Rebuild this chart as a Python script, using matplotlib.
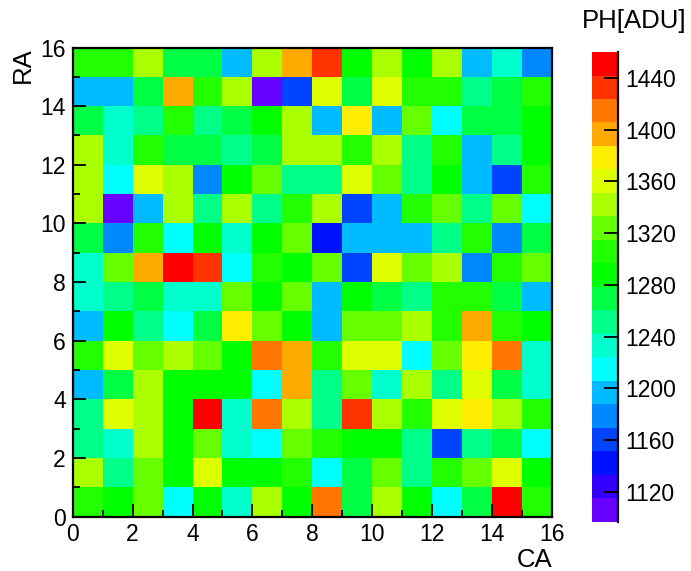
import matplotlib
matplotlib.use("Agg")
import matplotlib.pyplot as plt
import numpy as np
from matplotlib.colors import ListedColormap, BoundaryNorm

plt.rcParams['font.family'] = ['Liberation Sans', 'DejaVu Sans']
plt.rcParams['font.size'] = 16.5

# pulse height per cell, rows listed from top (RA 15-16) down to bottom (RA 0-1)
ph_rows_top_down = [
    [1306, 1306, 1342, 1270, 1270, 1197, 1342, 1397, 1433, 1288, 1342, 1288, 1342, 1197, 1233, 1179],
    [1197, 1197, 1270, 1397, 1306, 1342, 1106, 1161, 1361, 1270, 1361, 1306, 1306, 1251, 1270, 1306],
    [1270, 1233, 1251, 1306, 1251, 1270, 1288, 1342, 1197, 1379, 1197, 1324, 1215, 1270, 1270, 1288],
    [1342, 1233, 1306, 1270, 1270, 1251, 1270, 1342, 1342, 1306, 1342, 1251, 1306, 1197, 1251, 1288],
    [1342, 1215, 1361, 1342, 1179, 1288, 1324, 1251, 1251, 1361, 1324, 1251, 1288, 1197, 1161, 1306],
    [1342, 1106, 1197, 1342, 1251, 1342, 1251, 1306, 1342, 1161, 1197, 1306, 1324, 1251, 1324, 1215],
    [1270, 1179, 1306, 1215, 1288, 1233, 1288, 1324, 1143, 1197, 1197, 1197, 1251, 1306, 1179, 1270],
    [1233, 1324, 1397, 1451, 1433, 1215, 1306, 1288, 1324, 1161, 1361, 1324, 1342, 1179, 1306, 1324],
    [1233, 1251, 1270, 1233, 1233, 1324, 1288, 1324, 1197, 1288, 1270, 1251, 1306, 1306, 1270, 1197],
    [1197, 1288, 1251, 1215, 1270, 1379, 1324, 1288, 1197, 1324, 1324, 1342, 1306, 1397, 1306, 1288],
    [1306, 1361, 1324, 1342, 1324, 1288, 1415, 1397, 1306, 1361, 1361, 1215, 1324, 1379, 1415, 1233],
    [1197, 1270, 1342, 1288, 1288, 1288, 1215, 1397, 1251, 1324, 1233, 1342, 1251, 1361, 1270, 1233],
    [1251, 1361, 1342, 1288, 1451, 1233, 1415, 1342, 1251, 1433, 1342, 1306, 1361, 1379, 1342, 1306],
    [1251, 1233, 1342, 1288, 1324, 1233, 1215, 1324, 1306, 1288, 1288, 1251, 1161, 1251, 1270, 1215],
    [1342, 1251, 1324, 1288, 1361, 1288, 1288, 1306, 1215, 1270, 1324, 1251, 1306, 1324, 1361, 1288],
    [1306, 1288, 1324, 1215, 1288, 1233, 1342, 1288, 1415, 1270, 1342, 1288, 1215, 1270, 1451, 1306],
]
z_min = 1097
z_max = 1460
cbar_ticks = [1120, 1160, 1200, 1240, 1280, 1320, 1360, 1400, 1440]

palette = ['#6600ff', '#3300ff', '#0011ff', '#0044ff', '#0088ff', '#00bbff',
           '#00ffff', '#00ffcc', '#00ff88', '#00ff44', '#00ff00', '#22ff00',
           '#66ff00', '#aaff00', '#ddff00', '#ffee00', '#ffaa00', '#ff7700',
           '#ff3300', '#ff0000']

ph = np.flipud(np.array(ph_rows_top_down, dtype=float))
edges = np.arange(17)

cmap = ListedColormap(palette)
norm = BoundaryNorm(np.linspace(z_min, z_max, len(palette) + 1), cmap.N)

fig = plt.figure(figsize=(6.91, 5.71), dpi=100)
ax = fig.add_axes([0.1052, 0.0954, 0.6936, 0.8214])
mesh = ax.pcolormesh(edges, edges, ph, cmap=cmap, norm=norm)

ax.set_xlim(0, 16)
ax.set_ylim(0, 16)
ax.set_xticks(np.arange(0, 17, 2))
ax.set_yticks(np.arange(0, 17, 2))
ax.set_xticks(np.arange(1, 16, 2), minor=True)
ax.set_yticks(np.arange(1, 16, 2), minor=True)
ax.tick_params(which='major', direction='in', length=9.5, width=1.3, pad=5)
ax.tick_params(which='minor', direction='in', length=4.7, width=1.3)
ax.tick_params(top=False, right=False, which='both')
for s in ax.spines.values():
    s.set_linewidth(1.6)

ax.set_xlabel('CA', loc='right', labelpad=1, fontsize=18.5)
ax.set_ylabel('RA', loc='top', labelpad=4, fontsize=18.5)

cax = fig.add_axes([0.8567, 0.0863, 0.0376, 0.8226])
cb = fig.colorbar(mesh, cax=cax, ticks=cbar_ticks)
cb.outline.set_visible(False)
cax.spines['right'].set_visible(True)
cax.spines['right'].set_linewidth(1.6)
cax.tick_params(direction='in', length=10, width=1.3, pad=5)
cax.minorticks_off()

fig.text(0.918, 0.964, 'PH[ADU]', ha='center', va='center', fontsize=18.5)

fig.savefig('out.png', dpi=100)
